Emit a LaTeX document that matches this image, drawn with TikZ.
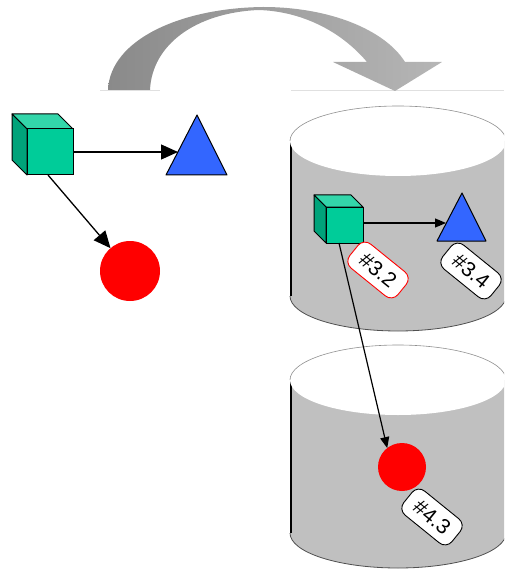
\documentclass[tikz,border=0pt]{standalone}
\usepackage{fontspec}
\setsansfont{Liberation Sans}
\usetikzlibrary{arrows.meta,shapes.geometric}
\definecolor{cubefrontc}{HTML}{00CC99}
\definecolor{cubetopc}{HTML}{33D6AA}
\definecolor{cubesidec}{HTML}{00A37A}
\definecolor{triblue}{HTML}{3366FF}
\definecolor{circred}{HTML}{FF0000}
\definecolor{cylgray}{HTML}{C0C0C0}
\definecolor{cylrim}{HTML}{909090}
\definecolor{cylbot}{HTML}{505050}
\definecolor{arrdark}{HTML}{8A8A8A}
\definecolor{arrlight}{HTML}{B6B6B6}
\definecolor{baseln}{HTML}{E0E0E0}
\begin{document}
\begin{tikzpicture}[x=1pt,y=-1pt,
  cubefront/.style={draw=black,line width=1pt,fill=cubefrontc,inner sep=0pt,outer sep=0pt},
  cubetop/.style={draw=black,line width=1pt,fill=cubetopc,line join=round},
  cubeside/.style={draw=black,line width=1pt,fill=cubesidec,line join=round},
  tri/.style={draw=black,line width=1pt,fill=triblue,line join=round},
  ball/.style={circle,fill=circred,inner sep=0pt,outer sep=0pt},
  bigarrow/.style={line width=1.3pt,-{Triangle[length=17pt,width=15pt]}},
  smallarrow/.style={line width=1.2pt,-{Triangle[length=11pt,width=9pt]}},
  tag/.style={draw=black,fill=white,rounded corners=9pt,rotate=-39,
    font=\sffamily\fontsize{21}{21}\selectfont,minimum width=62pt,
    minimum height=31pt,inner sep=1pt,line width=0.9pt},
  cylbody/.style={fill=cylgray},
  cyltop/.style={draw=cylrim,line width=0.6pt},
  cylleft/.style={draw=black,line width=1.6pt},
  cylbottom/.style={draw=cylbot,line width=0.8pt}
]
\useasboundingbox (0,0) rectangle (504,569);
\clip (0,0) rectangle (504,569);

% baseline lines
\draw[baseln,line width=0.8pt] (100,90) -- (160,90);
\draw[baseln,line width=0.8pt] (291,90) -- (504,90);

% big curved arrow
\shade[left color=arrdark,right color=arrlight]
  (108,90) .. controls (110,40) and (180,8) .. (263,7)
  .. controls (330,7) and (385,30) .. (405,62)
  -- (442,62) -- (395,91) -- (333,62) -- (367,62)
  .. controls (340,30) and (300,11) .. (258,10)
  .. controls (195,13) and (152,45) .. (150,90) -- cycle;

% cylinder 1
\fill[cylbody] (290,141) -- (290,296)
  arc[start angle=180,end angle=360,x radius=108pt,y radius=35pt]
  -- (506,141) -- cycle;
\draw[cylbottom] (290,296) arc[start angle=180,end angle=360,x radius=108pt,y radius=35pt];
\draw[cylleft] (291,141) -- (291,296);
\fill[white] (398,141) ellipse[x radius=108pt,y radius=35pt];
\draw[cyltop] (290,141) arc[start angle=180,end angle=0,x radius=108pt,y radius=35pt];

% cylinder 2
\fill[cylbody] (290,380) -- (290,533)
  arc[start angle=180,end angle=360,x radius=108pt,y radius=35pt]
  -- (506,380) -- cycle;
\draw[cylbottom] (290,533) arc[start angle=180,end angle=360,x radius=108pt,y radius=35pt];
\draw[cylleft] (291,380) -- (291,533);
\fill[white] (398,380) ellipse[x radius=108pt,y radius=35pt];
\draw[cyltop] (290,380) arc[start angle=180,end angle=0,x radius=108pt,y radius=35pt];

% left group
\node[cubefront,minimum width=46pt,minimum height=46pt] (c1) at (50,152) {};
\filldraw[cubetop] (c1.north west) -- ++(-15,-15) -- ++(46,0) -- (c1.north east) -- cycle;
\filldraw[cubeside] (c1.north west) -- ++(-15,-15) -- ++(0,46) -- (c1.south west) -- cycle;
\draw[cubefront] (c1.north west) rectangle (c1.south east);
\filldraw[tri] (166,175) -- (197,115) -- (227,175) -- cycle;
\coordinate (t1) at (178,152);
\node[ball,minimum size=60pt] (b1) at (130,271) {};
\draw[bigarrow] (c1.east) -- (t1);
\draw[bigarrow] ([xshift=-2pt]c1.south) -- (b1);

% right group
\node[cubefront,minimum width=37pt,minimum height=36pt] (c2) at (344.5,225) {};
\filldraw[cubetop] (c2.north west) -- ++(-12,-12) -- ++(37,0) -- (c2.north east) -- cycle;
\filldraw[cubeside] (c2.north west) -- ++(-12,-12) -- ++(0,36) -- (c2.south west) -- cycle;
\draw[cubefront] (c2.north west) rectangle (c2.south east);
\filldraw[tri] (437,241) -- (462,193) -- (486,241) -- cycle;
\coordinate (t2) at (446,223);
\node[ball,minimum size=48pt] (b2) at (402,467) {};
\draw[smallarrow] (c2.east |- t2) -- (t2);
\draw[smallarrow] ([xshift=-5.5pt]c2.south) -- (b2.128);

% tags
\node[tag,draw=circred] (l32) at (378,270) {\#3.2};
\node[tag] (l34) at (471,271) {\#3.4};
\node[tag] (l43) at (432,517) {\#4.3};
\end{tikzpicture}
\end{document}
